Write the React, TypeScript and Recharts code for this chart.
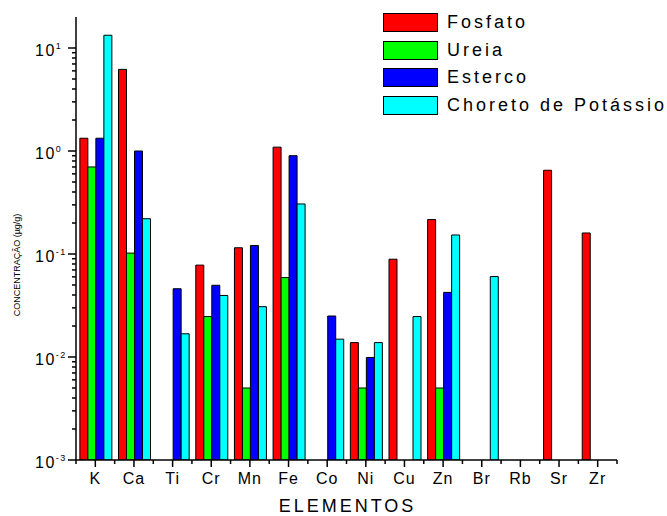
import { BarChart, Bar, XAxis, YAxis, Legend } from 'recharts';

const ELEMENTS = ['K', 'Ca', 'Ti', 'Cr', 'Mn', 'Fe', 'Co', 'Ni', 'Cu', 'Zn', 'Br', 'Rb', 'Sr', 'Zr'];

// µg/g, null = não detectado
const FOSFATO = [1.33, 6.2, null, 0.078, 0.115, 1.09, null, 0.0138, 0.089, 0.216, null, null, 0.65, 0.16];
const UREIA = [0.7, 0.102, null, 0.0247, 0.005, 0.059, null, 0.005, null, 0.005, null, null, null, null];
const ESTERCO = [1.33, 1.0, 0.046, 0.0497, 0.121, 0.9, 0.025, 0.0099, null, 0.0424, null, null, null, null];
const CLORETO = [13.3, 0.22, 0.0168, 0.0396, 0.0308, 0.306, 0.0149, 0.0138, 0.0247, 0.153, 0.0604, null, null, null];

const SERIES = [
  { key: 'fosfato', name: 'Fosfato', color: '#FF0000', values: FOSFATO },
  { key: 'ureia', name: 'Ureia', color: '#00FF00', values: UREIA },
  { key: 'esterco', name: 'Esterco', color: '#0000FF', values: ESTERCO },
  { key: 'cloreto', name: 'Choreto de Potássio', color: '#00FFFF', values: CLORETO },
];

const Y_TICKS = [0.001, 0.01, 0.1, 1, 10].flatMap((d) =>
  d === 10 ? [10] : [1, 2, 3, 4, 5, 6, 7, 8, 9].map((m) => +(m * d).toPrecision(3))
);

const W = 667;
const H = 516;
const MARGIN = { top: 17, right: 50, left: 16, bottom: 0 };
const Y_W = 60;
const X_H = 56;
const BAND = (W - MARGIN.left - MARGIN.right - Y_W) / ELEMENTS.length;
const FONT = '"Liberation Sans", Arial, sans-serif';

const data = ELEMENTS.map((el, i) => {
  const row: any = { el };
  SERIES.forEach((s) => (row[s.key] = s.values[i]));
  return row;
});

function YTick({ x, y, payload }: any) {
  const v = payload.value;
  const lg = Math.log10(v);
  const exp = Math.round(lg);
  const major = Math.abs(lg - exp) < 1e-6;
  return (
    <g>
      <line x1={x} x2={x - (major ? 8 : 4)} y1={y} y2={y} stroke="#000" strokeWidth={1.5} />
      {major && (
        <text x={x - 41} y={y + 8} fontSize={16} letterSpacing={1.5} fill="#000" fontFamily={FONT}>
          10
          <tspan dy={-7} fontSize={9}>{exp}</tspan>
        </text>
      )}
    </g>
  );
}

function XTick({ x, y, payload, index }: any) {
  return (
    <g>
      <line x1={x} x2={x} y1={y} y2={y + 7} stroke="#000" strokeWidth={1.5} />
      <line x1={x - BAND / 2} x2={x - BAND / 2} y1={y} y2={y + 4} stroke="#000" strokeWidth={1.5} />
      {index === ELEMENTS.length - 1 && (
        <line x1={x + BAND / 2} x2={x + BAND / 2} y1={y} y2={y + 4} stroke="#000" strokeWidth={1.5} />
      )}
      <text x={x} y={y + 24} textAnchor="middle" fontSize={16} letterSpacing={1} fill="#000" fontFamily={FONT}>
        {payload.value}
      </text>
    </g>
  );
}

function YLabel() {
  const cy = 265;
  return (
    <text
      x={17}
      y={cy}
      transform={`rotate(-90, 17, ${cy})`}
      textAnchor="middle"
      dominantBaseline="central"
      fontSize={9}
      fill="#000"
      fontFamily={FONT}
    >
      CONCENTRAÇÃO (µg/g)
    </text>
  );
}

function XLabel({ viewBox }: any) {
  return (
    <text
      x={viewBox.x + viewBox.width / 2 + 1}
      y={viewBox.y + 52}
      textAnchor="middle"
      fontSize={18}
      letterSpacing={3}
      fill="#000"
      fontFamily={FONT}
    >
      ELEMENTOS
    </text>
  );
}

function LegendBox() {
  return (
    <div style={{ fontFamily: FONT }}>
      {SERIES.map((s) => (
        <div key={s.key} style={{ display: 'flex', alignItems: 'center', height: 27.5 }}>
          <div
            style={{
              width: 53,
              height: 17,
              background: s.color,
              border: '1px solid #000',
              marginRight: 9,
            }}
          />
          <span style={{ fontSize: 18, letterSpacing: 3, color: '#000', whiteSpace: 'nowrap' }}>{s.name}</span>
        </div>
      ))}
    </div>
  );
}

export default function App() {
  return (
    <div style={{ position: 'absolute', left: 0, top: 0, width: W, height: H, background: '#fff' }}>
      <BarChart width={W} height={H} data={data} margin={MARGIN} barCategoryGap="10%" barGap={0}>
        <XAxis
          dataKey="el"
          height={X_H}
          tick={<XTick />}
          tickLine={false}
          tickSize={0}
          tickMargin={0}
          interval={0}
          axisLine={{ stroke: '#000', strokeWidth: 1.5 }}
          label={<XLabel />}
        />
        <YAxis
          scale="log"
          type="number"
          domain={[0.001, 20]}
          allowDataOverflow
          ticks={Y_TICKS}
          interval={0}
          width={Y_W}
          tick={<YTick />}
          tickLine={false}
          tickSize={0}
          tickMargin={0}
          axisLine={{ stroke: '#000', strokeWidth: 1.5 }}
          label={<YLabel />}
        />
        <Legend
          content={<LegendBox />}
          layout="horizontal"
          verticalAlign="middle"
          align="center"
          wrapperStyle={{ top: 9, left: 383, width: 284 }}
        />
        {SERIES.map((s) => (
          <Bar
            key={s.key}
            dataKey={s.key}
            name={s.name}
            fill={s.color}
            stroke="#000"
            strokeWidth={1}
            isAnimationActive={false}
          />
        ))}
      </BarChart>
    </div>
  );
}
